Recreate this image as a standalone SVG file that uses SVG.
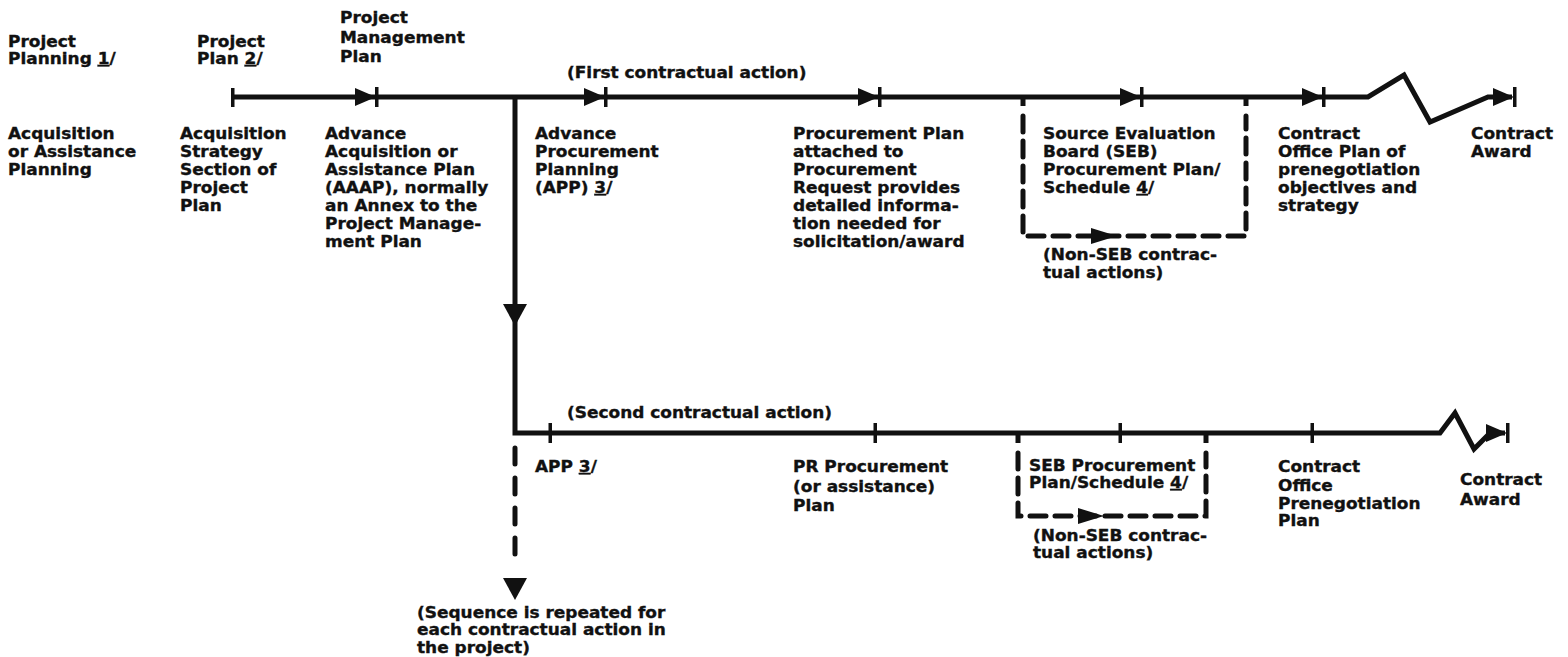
<svg xmlns="http://www.w3.org/2000/svg" xmlns:xlink="http://www.w3.org/1999/xlink" width="1568" height="657" viewBox="0 0 1568 657">
  <style>
    text { font-family: "DejaVu Sans", "Liberation Sans", sans-serif; font-weight: bold; font-size: 15px; fill: #111; stroke: #111; stroke-width: 0.35; }
    .u { text-decoration: underline; }
    .line { fill: none; stroke: #111; stroke-width: 5; stroke-linejoin: miter; }
    .dash { fill: none; stroke: #111; stroke-width: 5; stroke-dasharray: 16 9; stroke-linecap: round; }
    .vdash { fill: none; stroke: #111; stroke-width: 5; stroke-dasharray: 16 14; stroke-linecap: round; }
    .ink { fill: #111; }
  </style>
  <defs>
    <!-- right-pointing milestone arrow with a stop bar at its tip -->
    <g id="tip">
      <path class="ink" d="M-21,-9 L0,0 L-21,9 Z"/>
      <rect class="ink" x="-1" y="-10" width="3.5" height="20"/>
    </g>
    <!-- plain milestone tick crossing the line -->
    <rect id="tick" class="ink" x="-1.5" y="-10" width="3.5" height="20"/>
    <!-- small arrow inside dashed bypass -->
    <path id="smallArrow" class="ink" d="M-14,-8 L12,0 L-14,8 Z"/>
    <path id="downArrow" class="ink" d="M-12,0 L12,0 L0,22 Z"/>
  </defs>

  <g id="connectors">
    <!-- first contractual action timeline -->
    <path class="line" d="M233,97 L1368,97 L1404,75 L1430,122 L1488,97 L1512,97"/>
    <rect class="ink" x="231" y="88" width="3.5" height="19"/>
    <use xlink:href="#tip" x="376" y="97"/>
    <use xlink:href="#tip" x="605" y="97"/>
    <use xlink:href="#tip" x="879" y="97"/>
    <use xlink:href="#tip" x="1141" y="97"/>
    <use xlink:href="#tip" x="1323" y="97"/>
    <use xlink:href="#tip" x="1514" y="97"/>

    <!-- SEB bypass loop, first action -->
    <path class="line" d="M1023,97 L1023,106"/>
    <path class="line" d="M1246,97 L1246,106"/>
    <path class="dash" d="M1023,116 L1023,236 L1246,236 L1246,116"/>
    <use xlink:href="#smallArrow" x="1105" y="236"/>

    <!-- branch to second contractual action -->
    <path class="line" d="M515,97 L515,433 L1440,433 L1455,413 L1474,449 L1490,433 L1505,433"/>
    <use xlink:href="#downArrow" x="515" y="304"/>
    <use xlink:href="#tip" x="1507" y="433"/>
    <use xlink:href="#tick" x="550" y="433"/>
    <use xlink:href="#tick" x="875" y="433"/>
    <use xlink:href="#tick" x="1120" y="433"/>
    <use xlink:href="#tick" x="1312" y="433"/>

    <!-- SEB bypass loop, second action -->
    <path class="line" d="M1018,433 L1018,443"/>
    <path class="line" d="M1206,433 L1206,443"/>
    <path class="dash" d="M1018,453 L1018,516 L1206,516 L1206,453"/>
    <use xlink:href="#smallArrow" x="1092" y="516"/>

    <!-- repeat for further actions -->
    <path class="vdash" d="M515,448 L515,562"/>
    <use xlink:href="#downArrow" x="515" y="578"/>
  </g>

  <!-- text blocks are set in a slightly extended face: each column is shifted to its x and widened -->
  <g id="node-project-planning">
    <g transform="translate(8 0) scale(1.13 1)">
      <text x="0" y="47">Project</text>
      <text x="0" y="64">Planning <tspan class="u">1</tspan>/</text>
      <text x="0" y="139">Acquisition</text>
      <text x="0" y="157">or Assistance</text>
      <text x="0" y="175">Planning</text>
    </g>
  </g>

  <g id="node-project-plan">
    <g transform="translate(197 0) scale(1.13 1)">
      <text x="0" y="47">Project</text>
      <text x="0" y="64">Plan <tspan class="u">2</tspan>/</text>
    </g>
    <g transform="translate(180 0) scale(1.13 1)">
      <text x="0" y="139">Acquisition</text>
      <text x="0" y="157">Strategy</text>
      <text x="0" y="175">Section of</text>
      <text x="0" y="193">Project</text>
      <text x="0" y="211">Plan</text>
    </g>
  </g>

  <g id="node-project-management-plan">
    <g transform="translate(340 0) scale(1.13 1)">
      <text x="0" y="23">Project</text>
      <text x="0" y="43">Management</text>
      <text x="0" y="62">Plan</text>
    </g>
    <g transform="translate(325 0) scale(1.13 1)">
      <text x="0" y="139">Advance</text>
      <text x="0" y="157">Acquisition or</text>
      <text x="0" y="175">Assistance Plan</text>
      <text x="0" y="193">(AAAP), normally</text>
      <text x="0" y="211">an Annex to the</text>
      <text x="0" y="229">Project Manage-</text>
      <text x="0" y="247">ment Plan</text>
    </g>
  </g>

  <g id="node-first-app">
    <g transform="translate(567 0) scale(1.13 1)">
      <text x="0" y="78">(First contractual action)</text>
    </g>
    <g transform="translate(535 0) scale(1.13 1)">
      <text x="0" y="139">Advance</text>
      <text x="0" y="157">Procurement</text>
      <text x="0" y="175">Planning</text>
      <text x="0" y="193">(APP) <tspan class="u">3</tspan>/</text>
    </g>
  </g>

  <g id="node-first-procurement-plan">
    <g transform="translate(793 0) scale(1.13 1)">
      <text x="0" y="139">Procurement Plan</text>
      <text x="0" y="157">attached to</text>
      <text x="0" y="175">Procurement</text>
      <text x="0" y="193">Request provides</text>
      <text x="0" y="211">detailed informa-</text>
      <text x="0" y="229">tion needed for</text>
      <text x="0" y="247">solicitation/award</text>
    </g>
  </g>

  <g id="node-first-seb">
    <g transform="translate(1043 0) scale(1.13 1)">
      <text x="0" y="139">Source Evaluation</text>
      <text x="0" y="157">Board (SEB)</text>
      <text x="0" y="175">Procurement Plan/</text>
      <text x="0" y="193">Schedule <tspan class="u">4</tspan>/</text>
      <text x="0" y="260">(Non-SEB contrac-</text>
      <text x="0" y="278">tual actions)</text>
    </g>
  </g>

  <g id="node-first-office-plan">
    <g transform="translate(1278 0) scale(1.13 1)">
      <text x="0" y="139">Contract</text>
      <text x="0" y="157">Office Plan of</text>
      <text x="0" y="175">prenegotiation</text>
      <text x="0" y="193">objectives and</text>
      <text x="0" y="211">strategy</text>
    </g>
  </g>

  <g id="node-first-award">
    <g transform="translate(1471 0) scale(1.13 1)">
      <text x="0" y="139">Contract</text>
      <text x="0" y="157">Award</text>
    </g>
  </g>

  <g id="node-second-app">
    <g transform="translate(567 0) scale(1.13 1)">
      <text x="0" y="418">(Second contractual action)</text>
    </g>
    <g transform="translate(535 0) scale(1.13 1)">
      <text x="0" y="472">APP <tspan class="u">3</tspan>/</text>
    </g>
  </g>

  <g id="node-second-pr-plan">
    <g transform="translate(793 0) scale(1.13 1)">
      <text x="0" y="472">PR Procurement</text>
      <text x="0" y="492">(or assistance)</text>
      <text x="0" y="511">Plan</text>
    </g>
  </g>

  <g id="node-second-seb">
    <g transform="translate(1029 0) scale(1.13 1)">
      <text x="0" y="471">SEB Procurement</text>
      <text x="0" y="488">Plan/Schedule <tspan class="u">4</tspan>/</text>
    </g>
    <g transform="translate(1033 0) scale(1.13 1)">
      <text x="0" y="541">(Non-SEB contrac-</text>
      <text x="0" y="558">tual actions)</text>
    </g>
  </g>

  <g id="node-second-office-plan">
    <g transform="translate(1278 0) scale(1.13 1)">
      <text x="0" y="472">Contract</text>
      <text x="0" y="491">Office</text>
      <text x="0" y="509">Prenegotiation</text>
      <text x="0" y="526">Plan</text>
    </g>
  </g>

  <g id="node-second-award">
    <g transform="translate(1460 0) scale(1.13 1)">
      <text x="0" y="485">Contract</text>
      <text x="0" y="505">Award</text>
    </g>
  </g>

  <g id="node-repeat">
    <g transform="translate(417 0) scale(1.13 1)">
      <text x="0" y="618">(Sequence is repeated for</text>
      <text x="0" y="635">each contractual action in</text>
      <text x="0" y="653">the project)</text>
    </g>
  </g>
</svg>
